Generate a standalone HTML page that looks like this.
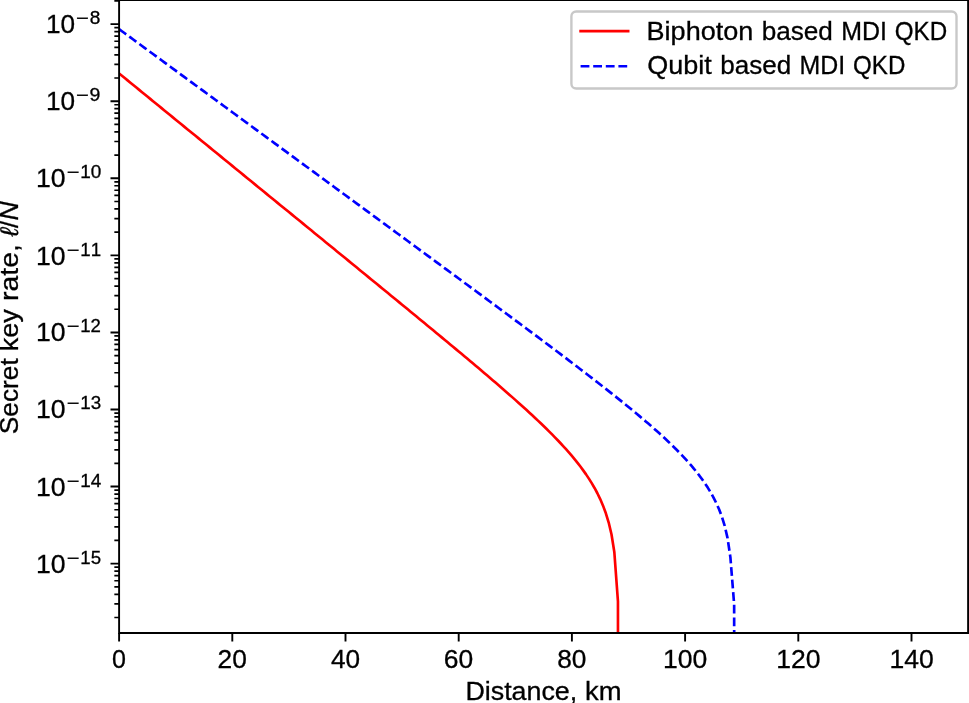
<!DOCTYPE html>
<html><head><meta charset="utf-8"><title>Secret key rate vs distance</title>
<style>html,body{margin:0;padding:0;background:#fff;}body{width:969px;height:703px;overflow:hidden;font-family:"Liberation Sans",sans-serif;}svg{display:block;}svg text{font-family:"Liberation Sans",sans-serif;}</style>
</head><body>
<svg width="969" height="703" viewBox="0 0 969 703"><rect x="0" y="0" width="969" height="703" fill="#fff"/><defs><clipPath id="ax"><rect x="119.10" y="0.15" width="849.00" height="632.80"/></clipPath></defs><g clip-path="url(#ax)" fill="none" stroke-linejoin="round"><path d="M119.10,73.46 L121.93,75.77 L124.76,78.08 L127.59,80.39 L130.42,82.70 L133.25,85.01 L136.08,87.32 L138.91,89.63 L141.74,91.94 L144.57,94.25 L147.40,96.56 L150.23,98.87 L153.06,101.18 L155.89,103.49 L158.72,105.80 L161.55,108.11 L164.38,110.42 L167.21,112.73 L170.04,115.04 L172.87,117.35 L175.70,119.66 L178.53,121.98 L181.36,124.29 L184.19,126.60 L187.02,128.91 L189.85,131.22 L192.68,133.53 L195.51,135.84 L198.34,138.15 L201.17,140.46 L204.00,142.77 L206.83,145.08 L209.66,147.39 L212.49,149.70 L215.32,152.01 L218.15,154.32 L220.98,156.63 L223.81,158.94 L226.64,161.25 L229.47,163.56 L232.30,165.87 L235.13,168.18 L237.96,170.50 L240.79,172.81 L243.62,175.12 L246.45,177.43 L249.28,179.74 L252.11,182.05 L254.94,184.36 L257.77,186.67 L260.60,188.98 L263.43,191.29 L266.26,193.60 L269.09,195.91 L271.92,198.22 L274.75,200.54 L277.58,202.85 L280.41,205.16 L283.24,207.47 L286.07,209.78 L288.90,212.09 L291.73,214.40 L294.56,216.71 L297.39,219.03 L300.22,221.34 L303.05,223.65 L305.88,225.96 L308.71,228.27 L311.54,230.58 L314.37,232.90 L317.20,235.21 L320.03,237.52 L322.86,239.83 L325.69,242.15 L328.52,244.46 L331.35,246.77 L334.18,249.08 L337.01,251.40 L339.84,253.71 L342.67,256.02 L345.50,258.34 L348.33,260.65 L351.16,262.97 L353.99,265.28 L356.82,267.60 L359.65,269.91 L362.48,272.23 L365.31,274.54 L368.14,276.86 L370.97,279.18 L373.80,281.49 L376.63,283.81 L379.46,286.13 L382.29,288.45 L385.12,290.77 L387.95,293.09 L390.78,295.41 L393.61,297.73 L396.44,300.05 L399.27,302.37 L402.10,304.70 L404.93,307.02 L407.76,309.35 L410.59,311.67 L413.42,314.00 L416.25,316.33 L419.08,318.66 L421.91,320.99 L424.74,323.32 L427.57,325.66 L430.40,327.99 L433.23,330.33 L436.06,332.67 L438.89,335.01 L441.72,337.36 L444.55,339.70 L447.38,342.05 L450.21,344.40 L453.04,346.76 L455.87,349.11 L458.70,351.47 L461.53,353.84 L464.36,356.20 L467.19,358.57 L470.02,360.95 L472.85,363.33 L475.68,365.72 L478.51,368.11 L481.34,370.50 L484.17,372.90 L487.00,375.31 L489.83,377.73 L492.66,380.15 L495.49,382.58 L498.32,385.02 L501.15,387.47 L503.98,389.93 L506.81,392.40 L509.64,394.88 L512.47,397.37 L515.30,399.88 L518.13,402.40 L520.96,404.94 L523.79,407.50 L526.62,410.07 L529.45,412.67 L532.28,415.28 L535.11,417.92 L537.94,420.59 L540.77,423.29 L543.60,426.01 L546.43,428.78 L549.26,431.58 L552.09,434.42 L554.92,437.31 L557.75,440.25 L560.58,443.24 L563.41,446.30 L566.24,449.43 L569.07,452.64 L571.90,455.95 L574.73,459.35 L577.56,462.88 L580.39,466.54 L583.22,470.37 L586.05,474.38 L588.88,478.62 L591.71,483.13 L594.54,487.98 L597.37,493.25 L600.20,499.08 L603.03,505.66 L605.86,513.29 L608.69,522.53 L611.52,534.52 L614.35,552.33 L617.95,601.40 L618.00,672.95" stroke="#ff0000" stroke-width="2.65" stroke-linecap="square"/><path d="M119.10,29.12 L121.93,31.20 L124.76,33.28 L127.59,35.35 L130.42,37.43 L133.25,39.51 L136.08,41.58 L138.91,43.66 L141.74,45.74 L144.57,47.81 L147.40,49.89 L150.23,51.97 L153.06,54.04 L155.89,56.12 L158.72,58.20 L161.55,60.28 L164.38,62.35 L167.21,64.43 L170.04,66.51 L172.87,68.58 L175.70,70.66 L178.53,72.74 L181.36,74.81 L184.19,76.89 L187.02,78.97 L189.85,81.05 L192.68,83.12 L195.51,85.20 L198.34,87.28 L201.17,89.35 L204.00,91.43 L206.83,93.51 L209.66,95.58 L212.49,97.66 L215.32,99.74 L218.15,101.82 L220.98,103.89 L223.81,105.97 L226.64,108.05 L229.47,110.12 L232.30,112.20 L235.13,114.28 L237.96,116.36 L240.79,118.43 L243.62,120.51 L246.45,122.59 L249.28,124.66 L252.11,126.74 L254.94,128.82 L257.77,130.89 L260.60,132.97 L263.43,135.05 L266.26,137.13 L269.09,139.20 L271.92,141.28 L274.75,143.36 L277.58,145.43 L280.41,147.51 L283.24,149.59 L286.07,151.67 L288.90,153.74 L291.73,155.82 L294.56,157.90 L297.39,159.98 L300.22,162.05 L303.05,164.13 L305.88,166.21 L308.71,168.28 L311.54,170.36 L314.37,172.44 L317.20,174.52 L320.03,176.59 L322.86,178.67 L325.69,180.75 L328.52,182.83 L331.35,184.90 L334.18,186.98 L337.01,189.06 L339.84,191.14 L342.67,193.22 L345.50,195.29 L348.33,197.37 L351.16,199.45 L353.99,201.53 L356.82,203.60 L359.65,205.68 L362.48,207.76 L365.31,209.84 L368.14,211.92 L370.97,214.00 L373.80,216.07 L376.63,218.15 L379.46,220.23 L382.29,222.31 L385.12,224.39 L387.95,226.47 L390.78,228.55 L393.61,230.63 L396.44,232.70 L399.27,234.78 L402.10,236.86 L404.93,238.94 L407.76,241.02 L410.59,243.10 L413.42,245.18 L416.25,247.26 L419.08,249.34 L421.91,251.42 L424.74,253.51 L427.57,255.59 L430.40,257.67 L433.23,259.75 L436.06,261.83 L438.89,263.91 L441.72,266.00 L444.55,268.08 L447.38,270.16 L450.21,272.24 L453.04,274.33 L455.87,276.41 L458.70,278.50 L461.53,280.58 L464.36,282.67 L467.19,284.75 L470.02,286.84 L472.85,288.93 L475.68,291.01 L478.51,293.10 L481.34,295.19 L484.17,297.28 L487.00,299.37 L489.83,301.46 L492.66,303.55 L495.49,305.64 L498.32,307.74 L501.15,309.83 L503.98,311.93 L506.81,314.02 L509.64,316.12 L512.47,318.22 L515.30,320.32 L518.13,322.42 L520.96,324.52 L523.79,326.63 L526.62,328.73 L529.45,330.84 L532.28,332.95 L535.11,335.06 L537.94,337.17 L540.77,339.28 L543.60,341.40 L546.43,343.52 L549.26,345.64 L552.09,347.76 L554.92,349.89 L557.75,352.02 L560.58,354.15 L563.41,356.29 L566.24,358.43 L569.07,360.57 L571.90,362.72 L574.73,364.87 L577.56,367.02 L580.39,369.18 L583.22,371.35 L586.05,373.52 L588.88,375.69 L591.71,377.87 L594.54,380.06 L597.37,382.25 L600.20,384.46 L603.03,386.66 L605.86,388.88 L608.69,391.11 L611.52,393.34 L614.35,395.59 L617.18,397.84 L620.01,400.11 L622.84,402.38 L625.67,404.67 L628.50,406.98 L631.33,409.30 L634.16,411.63 L636.99,413.99 L639.82,416.36 L642.65,418.75 L645.48,421.16 L648.31,423.59 L651.14,426.05 L653.97,428.54 L656.80,431.06 L659.63,433.60 L662.46,436.19 L665.29,438.81 L668.12,441.47 L670.95,444.18 L673.78,446.95 L676.61,449.77 L679.44,452.65 L682.27,455.60 L685.10,458.63 L687.93,461.76 L690.76,464.98 L693.59,468.32 L696.42,471.80 L699.25,475.43 L702.08,479.25 L704.91,483.29 L707.74,487.60 L710.57,492.25 L713.40,497.32 L716.23,502.94 L719.06,509.31 L721.89,516.77 L724.72,525.93 L727.55,538.09 L730.38,557.20 L734.15,604.41 L734.20,672.95" stroke="#0000ff" stroke-width="2.65" stroke-dasharray="8.80 3.80" stroke-linecap="butt"/></g><path d="M119.10,632.95 V641.55 M232.30,632.95 V641.55 M345.50,632.95 V641.55 M458.70,632.95 V641.55 M571.90,632.95 V641.55 M685.10,632.95 V641.55 M798.30,632.95 V641.55 M911.50,632.95 V641.55" stroke="#000" stroke-width="1.90" fill="none"/><path d="M119.10,563.64 H110.50 M119.10,486.57 H110.50 M119.10,409.50 H110.50 M119.10,332.43 H110.50 M119.10,255.36 H110.50 M119.10,178.29 H110.50 M119.10,101.22 H110.50 M119.10,24.15 H110.50" stroke="#000" stroke-width="1.90" fill="none"/><path d="M119.10,617.51 H114.34 M119.10,603.94 H114.34 M119.10,594.31 H114.34 M119.10,586.84 H114.34 M119.10,580.74 H114.34 M119.10,575.58 H114.34 M119.10,571.11 H114.34 M119.10,567.17 H114.34 M119.10,540.44 H114.34 M119.10,526.87 H114.34 M119.10,517.24 H114.34 M119.10,509.77 H114.34 M119.10,503.67 H114.34 M119.10,498.51 H114.34 M119.10,494.04 H114.34 M119.10,490.10 H114.34 M119.10,463.37 H114.34 M119.10,449.80 H114.34 M119.10,440.17 H114.34 M119.10,432.70 H114.34 M119.10,426.60 H114.34 M119.10,421.44 H114.34 M119.10,416.97 H114.34 M119.10,413.03 H114.34 M119.10,386.30 H114.34 M119.10,372.73 H114.34 M119.10,363.10 H114.34 M119.10,355.63 H114.34 M119.10,349.53 H114.34 M119.10,344.37 H114.34 M119.10,339.90 H114.34 M119.10,335.96 H114.34 M119.10,309.23 H114.34 M119.10,295.66 H114.34 M119.10,286.03 H114.34 M119.10,278.56 H114.34 M119.10,272.46 H114.34 M119.10,267.30 H114.34 M119.10,262.83 H114.34 M119.10,258.89 H114.34 M119.10,232.16 H114.34 M119.10,218.59 H114.34 M119.10,208.96 H114.34 M119.10,201.49 H114.34 M119.10,195.39 H114.34 M119.10,190.23 H114.34 M119.10,185.76 H114.34 M119.10,181.82 H114.34 M119.10,155.09 H114.34 M119.10,141.52 H114.34 M119.10,131.89 H114.34 M119.10,124.42 H114.34 M119.10,118.32 H114.34 M119.10,113.16 H114.34 M119.10,108.69 H114.34 M119.10,104.75 H114.34 M119.10,78.02 H114.34 M119.10,64.45 H114.34 M119.10,54.82 H114.34 M119.10,47.35 H114.34 M119.10,41.25 H114.34 M119.10,36.09 H114.34 M119.10,31.62 H114.34 M119.10,27.68 H114.34 M119.10,0.95 H114.34" stroke="#000" stroke-width="1.7" fill="none"/><path d="M119.1,632.95 V0.15 M968.1,632.95 V0.15 M119.1,632.95 H968.1 M119.1,0.15 H968.1" stroke="#000" stroke-width="1.90" fill="none" stroke-linecap="square"/><rect x="571.4" y="11.5" width="385.10" height="77.00" rx="4.76" fill="#fff" fill-opacity="0.8" stroke="#c8c8c8" stroke-width="2.38"/><path d="M580.60,31.15 H628.16" stroke="#ff0000" stroke-width="2.65" stroke-linecap="square"/><path d="M580.60,66.25 H628.16" stroke="#0000ff" stroke-width="2.65" stroke-dasharray="8.80 3.80"/><g class="txt" fill="#000" stroke="#000" stroke-width="0.3" style="font-kerning:none;filter:grayscale(1)"><text x="646.58" y="39.60" font-size="25.20" textLength="106.73" lengthAdjust="spacingAndGlyphs">Biphoton</text><text x="761.67" y="39.60" font-size="25.20" textLength="71.18" lengthAdjust="spacingAndGlyphs">based</text><text x="841.24" y="39.60" font-size="25.20" textLength="45.74" lengthAdjust="spacingAndGlyphs">MDI</text><text x="894.81" y="39.60" font-size="25.20" textLength="52.45" lengthAdjust="spacingAndGlyphs">QKD</text><text x="647.22" y="74.30" font-size="25.20" textLength="64.56" lengthAdjust="spacingAndGlyphs">Qubit</text><text x="720.22" y="74.30" font-size="25.20" textLength="71.01" lengthAdjust="spacingAndGlyphs">based</text><text x="799.59" y="74.30" font-size="25.20" textLength="45.63" lengthAdjust="spacingAndGlyphs">MDI</text><text x="853.04" y="74.30" font-size="25.20" textLength="52.32" lengthAdjust="spacingAndGlyphs">QKD</text><text x="112.12" y="667.60" font-size="25.20" textLength="13.94" lengthAdjust="spacingAndGlyphs">0</text><text x="217.59" y="667.60" font-size="25.20" textLength="29.29" lengthAdjust="spacingAndGlyphs">20</text><text x="330.93" y="667.60" font-size="25.20" textLength="29.14" lengthAdjust="spacingAndGlyphs">40</text><text x="443.89" y="667.60" font-size="25.20" textLength="29.39" lengthAdjust="spacingAndGlyphs">60</text><text x="557.24" y="667.60" font-size="25.20" textLength="29.23" lengthAdjust="spacingAndGlyphs">80</text><text x="663.00" y="667.60" font-size="25.20" textLength="44.25" lengthAdjust="spacingAndGlyphs">100</text><text x="776.20" y="667.60" font-size="25.20" textLength="44.25" lengthAdjust="spacingAndGlyphs">120</text><text x="889.40" y="667.60" font-size="25.20" textLength="44.25" lengthAdjust="spacingAndGlyphs">140</text><text x="45.91" y="32.64" font-size="25.20" textLength="29.12" lengthAdjust="spacingAndGlyphs">10</text><text x="76.12" y="23.81" font-size="17.64" textLength="12.74" lengthAdjust="spacingAndGlyphs">−</text><text x="89.67" y="23.74" font-size="17.64" textLength="10.62" lengthAdjust="spacingAndGlyphs">8</text><text x="45.91" y="109.75" font-size="25.20" textLength="29.12" lengthAdjust="spacingAndGlyphs">10</text><text x="76.12" y="100.92" font-size="17.64" textLength="12.74" lengthAdjust="spacingAndGlyphs">−</text><text x="89.50" y="100.85" font-size="17.64" textLength="10.85" lengthAdjust="spacingAndGlyphs">9</text><text x="35.98" y="186.75" font-size="25.20" textLength="29.56" lengthAdjust="spacingAndGlyphs">10</text><text x="66.73" y="177.92" font-size="17.64" textLength="12.62" lengthAdjust="spacingAndGlyphs">−</text><text x="80.26" y="177.85" font-size="17.64" textLength="21.08" lengthAdjust="spacingAndGlyphs">10</text><text x="35.98" y="264.70" font-size="25.20" textLength="29.56" lengthAdjust="spacingAndGlyphs">10</text><text x="66.73" y="255.87" font-size="17.64" textLength="12.62" lengthAdjust="spacingAndGlyphs">−</text><text x="80.28" y="255.80" font-size="17.64" textLength="20.80" lengthAdjust="spacingAndGlyphs">11</text><text x="35.98" y="340.86" font-size="25.20" textLength="29.56" lengthAdjust="spacingAndGlyphs">10</text><text x="66.73" y="332.03" font-size="17.64" textLength="12.62" lengthAdjust="spacingAndGlyphs">−</text><text x="80.28" y="331.96" font-size="17.64" textLength="20.69" lengthAdjust="spacingAndGlyphs">12</text><text x="35.98" y="417.86" font-size="25.20" textLength="29.56" lengthAdjust="spacingAndGlyphs">10</text><text x="66.73" y="409.03" font-size="17.64" textLength="12.62" lengthAdjust="spacingAndGlyphs">−</text><text x="80.27" y="408.96" font-size="17.64" textLength="20.93" lengthAdjust="spacingAndGlyphs">13</text><text x="35.98" y="495.82" font-size="25.20" textLength="29.56" lengthAdjust="spacingAndGlyphs">10</text><text x="66.73" y="486.99" font-size="17.64" textLength="12.62" lengthAdjust="spacingAndGlyphs">−</text><text x="80.26" y="486.92" font-size="17.64" textLength="21.06" lengthAdjust="spacingAndGlyphs">14</text><text x="35.98" y="572.82" font-size="25.20" textLength="29.56" lengthAdjust="spacingAndGlyphs">10</text><text x="66.73" y="563.99" font-size="17.64" textLength="12.62" lengthAdjust="spacingAndGlyphs">−</text><text x="80.28" y="563.92" font-size="17.64" textLength="20.75" lengthAdjust="spacingAndGlyphs">15</text><text x="465.40" y="700.20" font-size="25.20" textLength="111.83" lengthAdjust="spacingAndGlyphs">Distance,</text><text x="585.05" y="700.20" font-size="25.20" textLength="36.51" lengthAdjust="spacingAndGlyphs">km</text><text x="-434.19" y="18.30" font-size="25.20" textLength="75.90" lengthAdjust="spacingAndGlyphs" transform="rotate(-90)">Secret</text><text x="-351.25" y="18.30" font-size="25.20" textLength="42.16" lengthAdjust="spacingAndGlyphs" transform="rotate(-90)">key</text><text x="-300.96" y="18.30" font-size="25.20" textLength="56.80" lengthAdjust="spacingAndGlyphs" transform="rotate(-90)">rate,</text><text x="-236.48" y="18.30" font-size="25.20" textLength="35.06" lengthAdjust="spacingAndGlyphs" transform="rotate(-90)"><tspan font-style="italic">ℓ</tspan>/<tspan font-style="italic">N</tspan></text></g></svg>
</body></html>
